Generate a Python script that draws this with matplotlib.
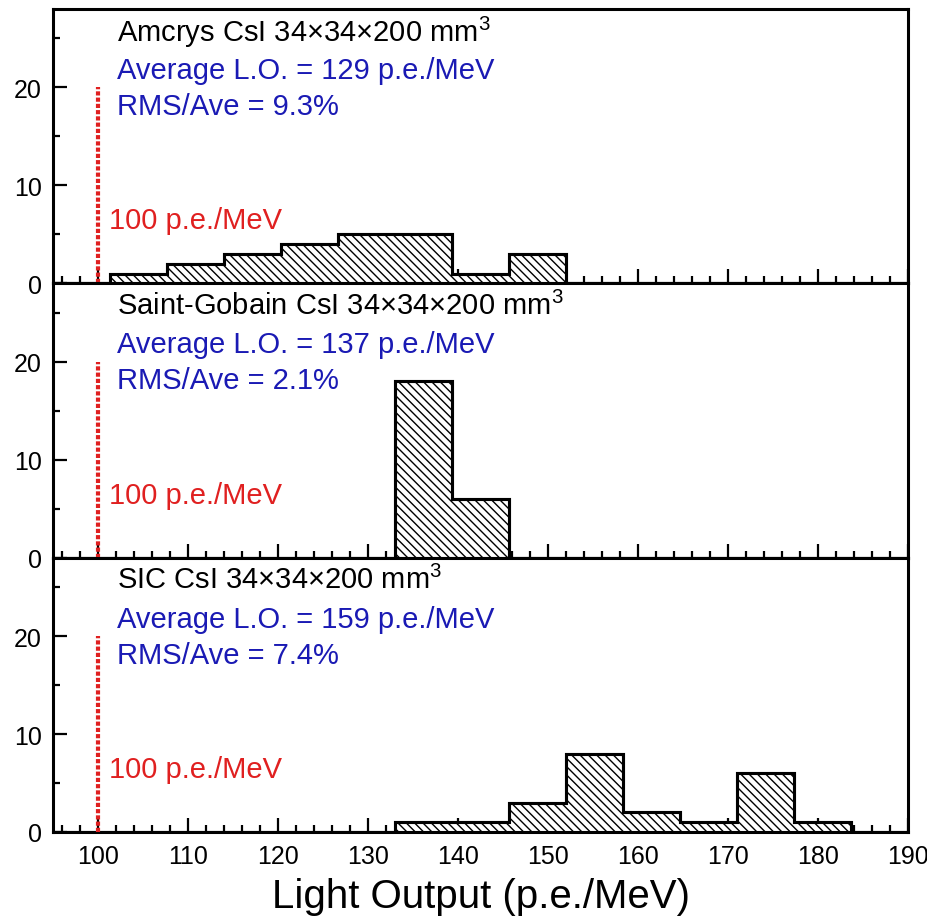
import numpy as np
import matplotlib
matplotlib.use("Agg")
import matplotlib.pyplot as plt
from matplotlib.ticker import MultipleLocator

plt.rcParams['font.family'] = ['Liberation Sans', 'DejaVu Sans']
plt.rcParams['mathtext.fontset'] = 'custom'
plt.rcParams['mathtext.rm'] = 'Liberation Sans'
plt.rcParams['mathtext.it'] = 'Liberation Sans:italic'
plt.rcParams['hatch.linewidth'] = 1.0

# Histogram data (15 bins from 95 to 190)
bin_edges = [95.0, 101.33, 107.67, 114.0, 120.33, 126.67, 133.0, 139.33,
             145.67, 152.0, 158.33, 164.67, 171.0, 177.33, 183.67, 190.0]
amcrys = [0, 1, 2, 3, 4, 5, 5, 1, 3, 0, 0, 0, 0, 0, 0]
saint_gobain = [0, 0, 0, 0, 0, 0, 18, 6, 0, 0, 0, 0, 0, 0, 0]
sic = [0, 0, 0, 0, 0, 0, 1, 1, 3, 8, 2, 1, 6, 1, 0]

titles = ["Amcrys CsI 34\u00d734\u00d7200 mm$^{3}$",
          "Saint-Gobain CsI 34\u00d734\u00d7200 mm$^{3}$",
          "SIC CsI 34\u00d734\u00d7200 mm$^{3}$"]
averages = ["Average L.O. = 129 p.e./MeV",
            "Average L.O. = 137 p.e./MeV",
            "Average L.O. = 159 p.e./MeV"]
rms = ["RMS/Ave = 9.3%", "RMS/Ave = 2.1%", "RMS/Ave = 7.4%"]
series = [amcrys, saint_gobain, sic]

threshold = 100
threshold_height = 20
threshold_label = "100 p.e./MeV"

W, H = 927, 920
fig = plt.figure(figsize=(W / 100, H / 100), dpi=100)

left_px, right_px = 53, 908
top_px, bottom_px = 10, 833
panel_h = (bottom_px - top_px) / 3

blue = "#1a1ab4"
red = "#e02020"
txt_size = 21

for i in range(3):
    y_top = top_px + i * panel_h
    ax = fig.add_axes([left_px / W, 1 - (y_top + panel_h) / H,
                       (right_px - left_px) / W, panel_h / H])
    ax.stairs(series[i], bin_edges, baseline=0, fill=True, facecolor="white",
              edgecolor="black", hatch="\\\\\\\\", linewidth=2.2, zorder=2)
    ax.stairs(series[i], bin_edges, baseline=0, fill=False,
              edgecolor="black", linewidth=2.2, zorder=3)
    ax.plot([threshold, threshold], [0, threshold_height], color=red,
            linestyle=(0, (1, 0.5)), linewidth=3, zorder=4)
    ax.set_xlim(95, 190)
    ax.set_ylim(0, 28)
    ax.xaxis.set_major_locator(MultipleLocator(10))
    ax.xaxis.set_minor_locator(MultipleLocator(2))
    ax.yaxis.set_major_locator(MultipleLocator(10))
    ax.yaxis.set_minor_locator(MultipleLocator(5))
    ax.tick_params(axis='both', which='major', direction='in', length=10,
                   width=1.6, labelsize=18, top=False, right=False)
    ax.tick_params(axis='both', which='minor', direction='in', length=5,
                   width=1.6, top=False, right=False)
    ax.tick_params(axis='y', pad=8)
    ax.tick_params(axis='x', pad=9)
    for sp in ax.spines.values():
        sp.set_linewidth(2.2)
    if i < 2:
        ax.tick_params(axis='x', labelbottom=False)

    def px(xp, yp):
        return ((xp - left_px) / (right_px - left_px), 1 - (yp) / panel_h)
    ax.text(*px(117, 22), titles[i], transform=ax.transAxes, fontsize=txt_size,
            color="black", va="center", ha="left")
    ax.text(*px(117, 61), averages[i], transform=ax.transAxes, fontsize=txt_size,
            color=blue, va="center", ha="left")
    ax.text(*px(117, 97), rms[i], transform=ax.transAxes, fontsize=txt_size,
            color=blue, va="center", ha="left")
    ax.text(*px(109, panel_h - 63), threshold_label, transform=ax.transAxes,
            fontsize=txt_size, color=red, va="center", ha="left")
    if i == 2:
        ax.set_xlabel("Light Output (p.e./MeV)", fontsize=29, labelpad=6)

fig.savefig("out.png", dpi=100)
